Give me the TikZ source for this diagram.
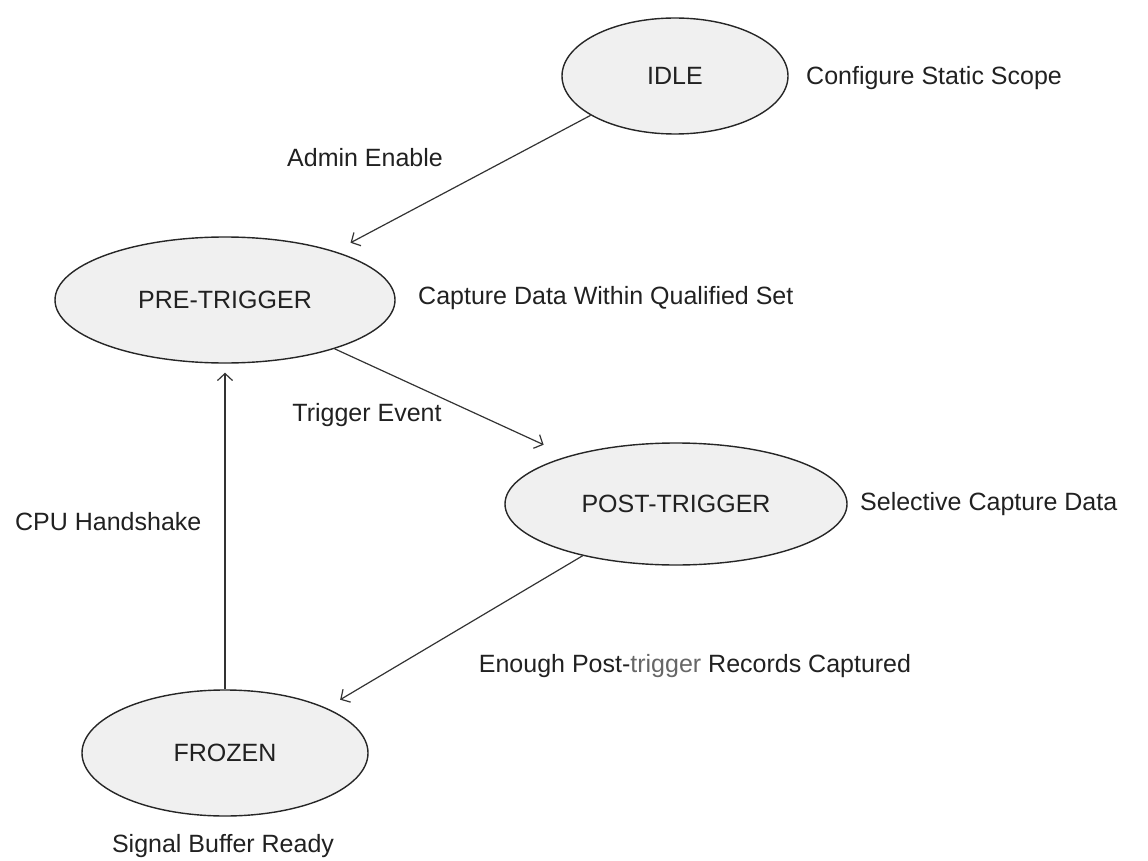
\documentclass[tikz,border=0pt]{standalone}
\usepackage{fontspec}
\setmainfont{Liberation Sans}
\usetikzlibrary{shapes.geometric,arrows.meta}

\begin{document}
\begin{tikzpicture}[x=1pt,y=-1pt,
    state/.style={ellipse,draw=black!85,line width=1.4pt,fill=black!6,inner sep=0pt,
        font=\fontsize{25}{30}\selectfont,text=black!87},
    lbl/.style={font=\fontsize{25}{30}\selectfont,text=black!87,inner sep=0pt,
        text height=0.72em,text depth=0pt},
    edge/.style={draw=black!80,line width=1.2pt,-{Straight Barb[length=7pt,width=15pt]}}]
    \useasboundingbox (0,0) rectangle (1148,861);
    \node[state,minimum width=226pt,minimum height=116pt] (idle) at (675,76) {IDLE};
    \node[state,minimum width=340pt,minimum height=126pt] (pre) at (225,300) {PRE-TRIGGER};
    \node[state,minimum width=342pt,minimum height=122pt] (post) at (676,504) {POST-TRIGGER};
    \node[state,minimum width=286pt,minimum height=126pt] (frozen) at (225,753) {FROZEN};
    \node[lbl,anchor=west] (idletxt) at (806,81) {Configure Static Scope};
    \node[lbl,anchor=west] (pretxt) at (418,301) {Capture Data Within Qualified Set};
    \node[lbl,anchor=west] (posttxt) at (860,507) {Selective Capture Data};
    \node[lbl] (frozentxt) at (223,849) {Signal Buffer Ready};
    \node[lbl] (enable) at (365,163) {Admin Enable};
    \node[lbl] (trig) at (367,418) {Trigger Event};
    \node[lbl,anchor=west] (hshake) at (15,527) {CPU Handshake};
    \node[lbl] (enough) at (695,669) {Enough Post-{\color{black!60}trigger} Records Captured};
    \draw[edge,shorten >=18pt] (idle.205) -- (pre.24);
    \draw[edge,shorten >=27pt] (pre.336) -- (post.156);
    \draw[edge,shorten >=16pt] (post.209) -- (frozen.24);
    \draw[edge,shorten >=9pt] (frozen.north) -- (pre.south);
\end{tikzpicture}
\end{document}
